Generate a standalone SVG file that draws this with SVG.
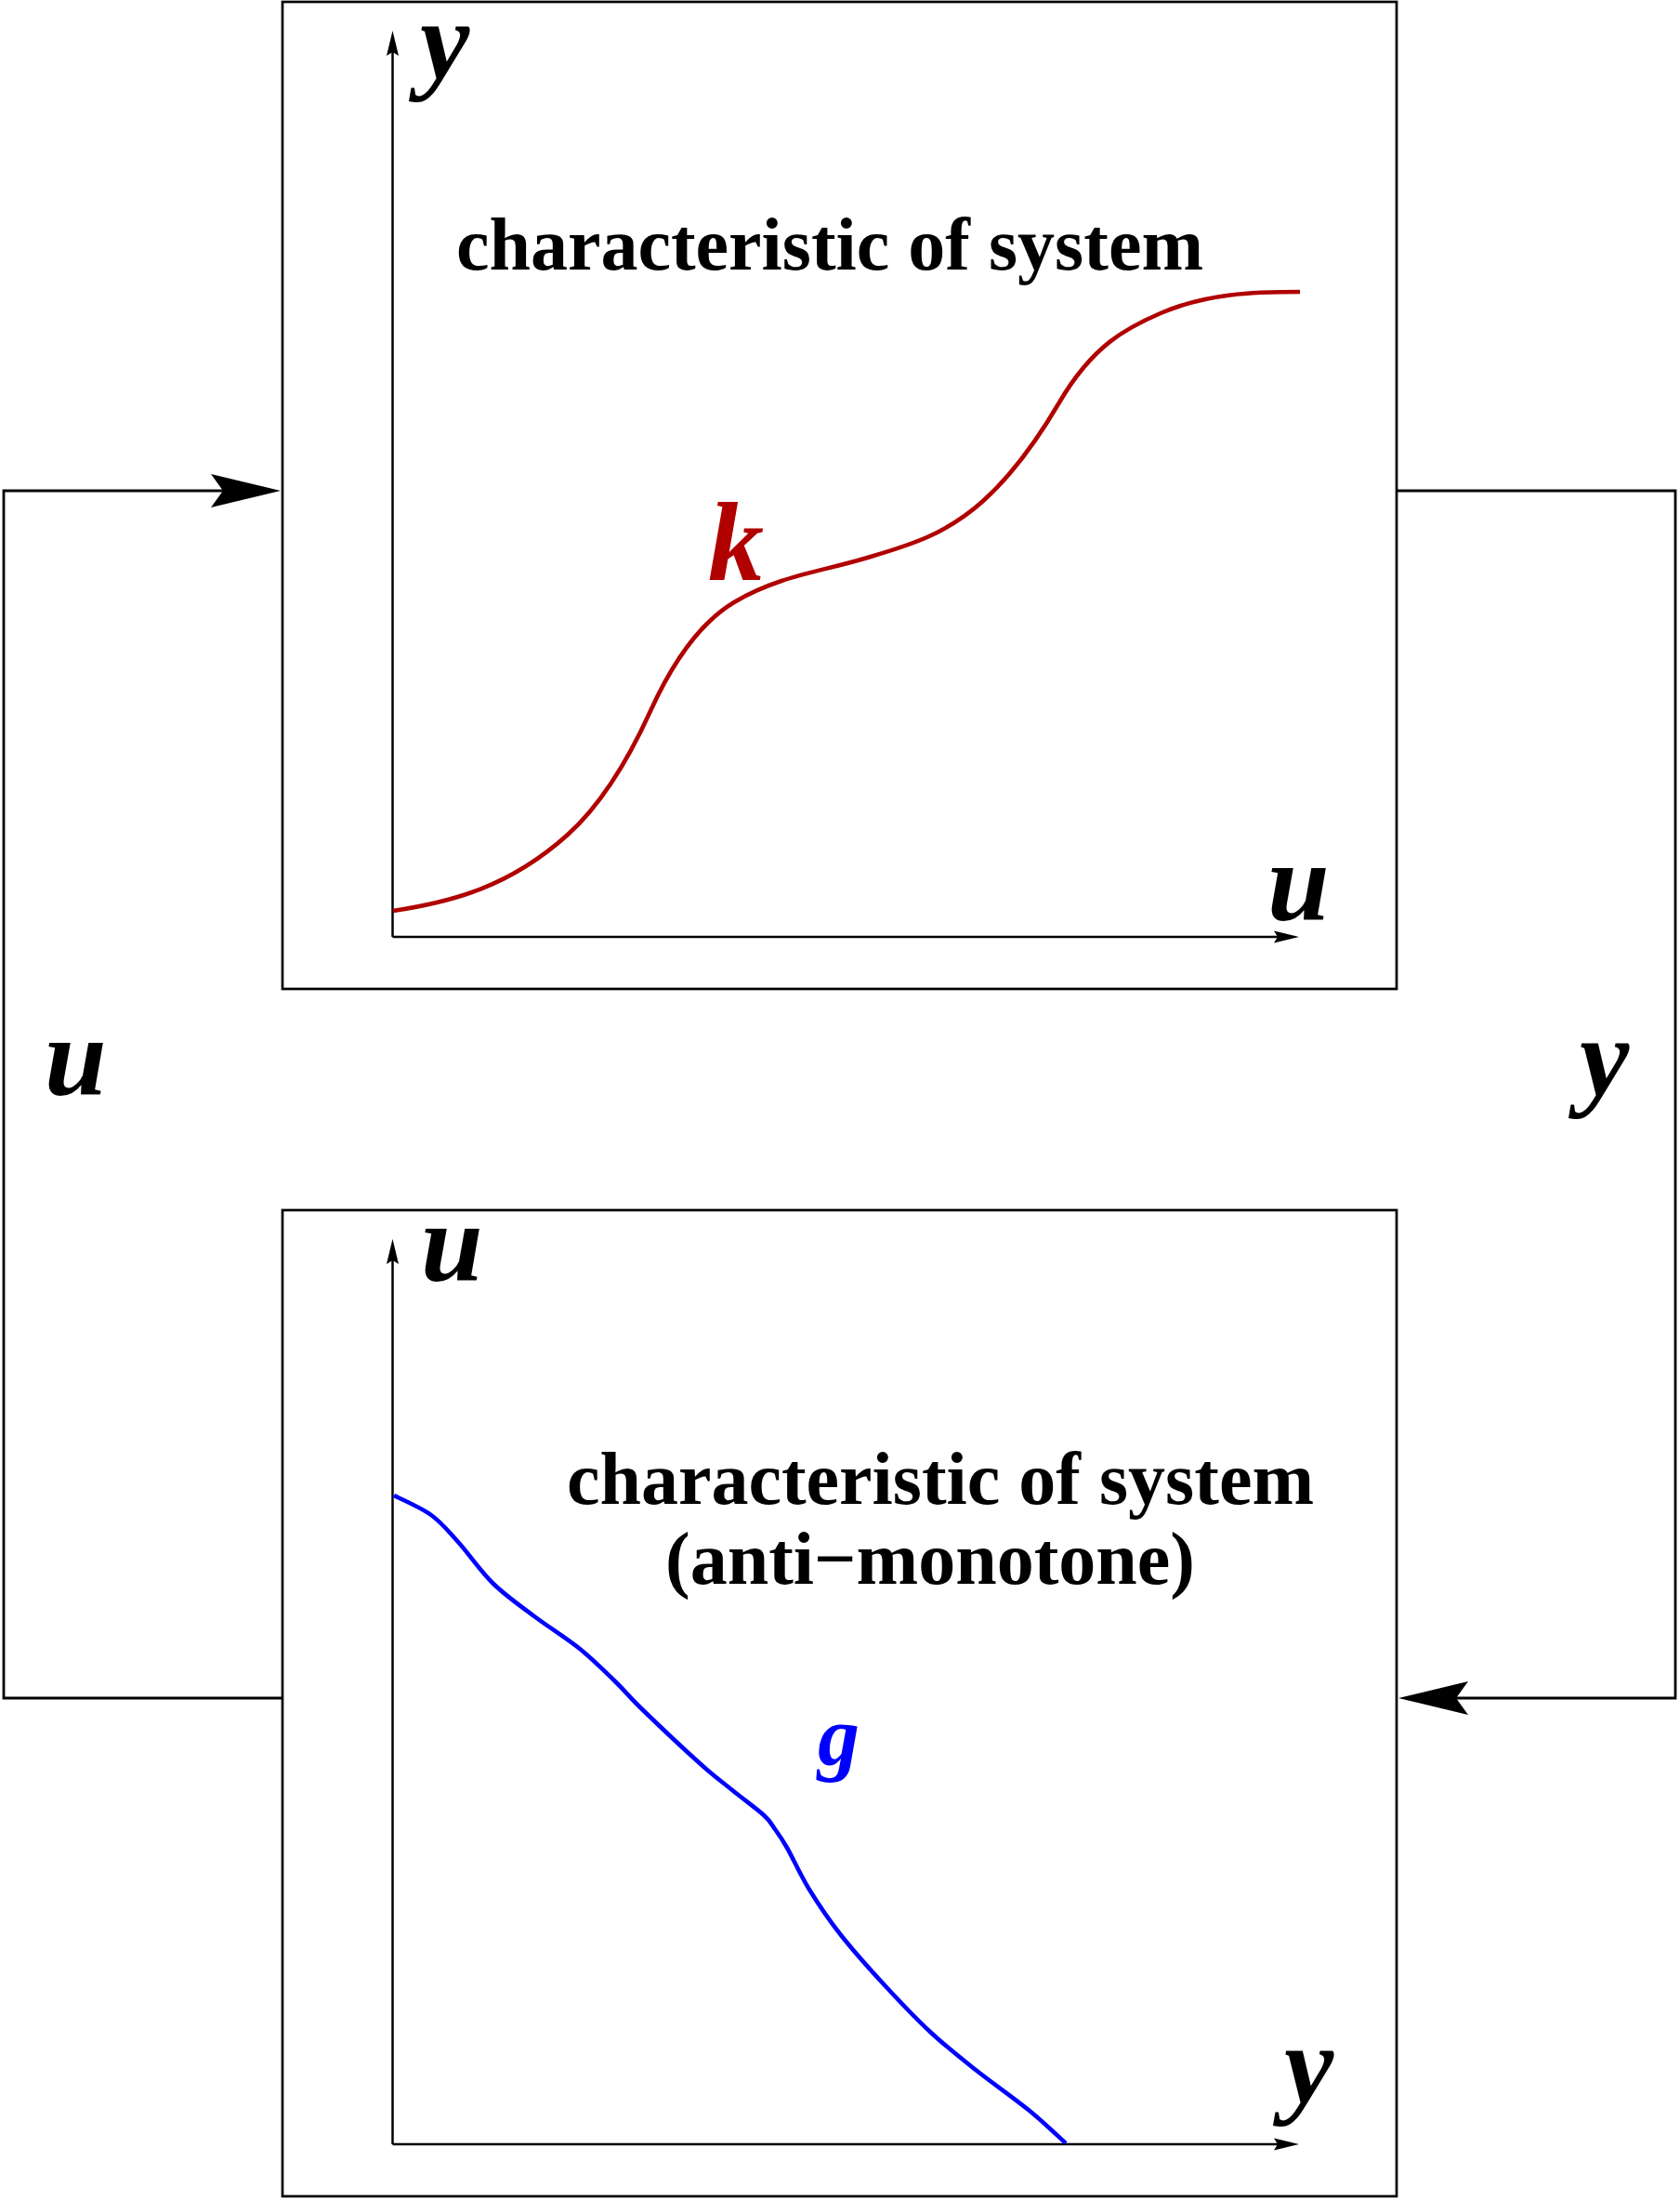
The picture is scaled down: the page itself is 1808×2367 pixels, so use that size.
<svg xmlns="http://www.w3.org/2000/svg" width="1808" height="2367" viewBox="0 0 1808 2367">
<style>
.box{fill:none;stroke:#000;stroke-width:2.7}
.conn{fill:none;stroke:#000;stroke-width:2.8}
.axis{fill:none;stroke:#000;stroke-width:2.5}
.title{font-family:"Liberation Serif","Times New Roman",serif;font-weight:bold;font-size:80px;fill:#000}
.lbl{font-family:"Liberation Serif","Times New Roman",serif;font-weight:bold;font-style:italic;font-size:120px;fill:#000}
.curve{fill:none;stroke-width:4.6;stroke-linejoin:round;stroke-linecap:butt}
</style>
<defs>
<marker id="bigArrow" viewBox="-14 -19 77 38" refX="0" refY="0" markerWidth="77" markerHeight="38" markerUnits="userSpaceOnUse" orient="auto">
<path d="M62,0 L-13,-18 L0,0 L-13,18 Z" fill="#000"/>
</marker>
<marker id="smallArrow" viewBox="-1 -8 30 16" refX="4" refY="0" markerWidth="30" markerHeight="16" markerUnits="userSpaceOnUse" orient="auto">
<path d="M27,0 L0,-6.5 L4,0 L0,6.5 Z" fill="#000"/>
</marker>
</defs>
<rect width="1808" height="2367" fill="#fff"/>

<g id="connectors">
<path class="conn" d="M304,1827 H4 V528 H240" marker-end="url(#bigArrow)"/>
<path class="conn" d="M1504,528 H1803 V1827 H1567" marker-end="url(#bigArrow)"/>
<text class="lbl" x="48" y="1178">u</text>
<text class="lbl" x="1700" y="1178">y</text>
</g>

<g id="system-k">
<rect class="box" x="304" y="2" width="1199" height="1062"/>
<line class="axis" x1="422.5" y1="1008" x2="422.5" y2="56" marker-end="url(#smallArrow)"/>
<line class="axis" x1="422.5" y1="1008" x2="1375" y2="1008" marker-end="url(#smallArrow)"/>
<text class="lbl" x="452" y="84">y</text>
<text class="lbl" x="1364" y="990">u</text>
<text class="title" x="893" y="290" text-anchor="middle">characteristic of system</text>
<path class="curve" stroke="#b00000" d="M423,980 C485.7,970.6 548.3,954.4 611,898 C640.7,871.3 670.3,830.3 700,765 C730,699 760,666 790,648 C836.7,620 883.3,615 930,601 C972.7,588.2 1015.3,577.4 1058,539 C1085.3,514.4 1112.7,479.5 1140,433 C1176.3,371.2 1212.7,352.6 1249,337 C1299,315.5 1349,314 1399,314"/>
<text class="lbl" x="762" y="624" style="fill:#b00000">k</text>
</g>

<g id="system-g">
<rect class="box" x="304" y="1302" width="1199" height="1061"/>
<line class="axis" x1="422.5" y1="2307" x2="422.5" y2="1356" marker-end="url(#smallArrow)"/>
<line class="axis" x1="422.5" y1="2307" x2="1375" y2="2307" marker-end="url(#smallArrow)"/>
<text class="lbl" x="453" y="1378">u</text>
<text class="lbl" x="1382" y="2262">y</text>
<text class="title" x="1012" y="1618" text-anchor="middle">characteristic of system</text>
<text class="title" x="1001" y="1704" text-anchor="middle">(anti−monotone)</text>
<path class="curve" stroke="#0000ff" d="M424,1609 C430.7,1612.5 452.5,1621.7 464,1630 C475.5,1638.3 481.8,1646.7 493,1659 C504.2,1671.3 517.3,1690.7 531,1704 C544.7,1717.3 559.5,1727.3 575,1739 C590.5,1750.7 609.5,1762.3 624,1774 C638.5,1785.7 650.8,1798.2 662,1809 C673.2,1819.8 675.7,1824.2 691,1839 C706.3,1853.8 737.8,1883.5 754,1898 C770.2,1912.5 776.7,1916.8 788,1926 C799.3,1935.2 814.3,1946 822,1953 C829.7,1960 829.8,1962.2 834,1968 C838.2,1973.8 840.8,1977.2 847,1988 C853.2,1998.8 861.3,2017.3 871,2033 C880.7,2048.7 891.3,2064.7 905,2082 C918.7,2099.3 936.8,2119.5 953,2137 C969.2,2154.5 985.8,2172 1002,2187 C1018.2,2202 1032.3,2213 1050,2227 C1067.7,2241 1091.8,2257.8 1108,2271 C1124.2,2284.2 1140.5,2300.2 1147,2306"/>
<text class="lbl" x="880" y="1899" style="fill:#0000ff;font-size:90px">g</text>
</g>
</svg>
